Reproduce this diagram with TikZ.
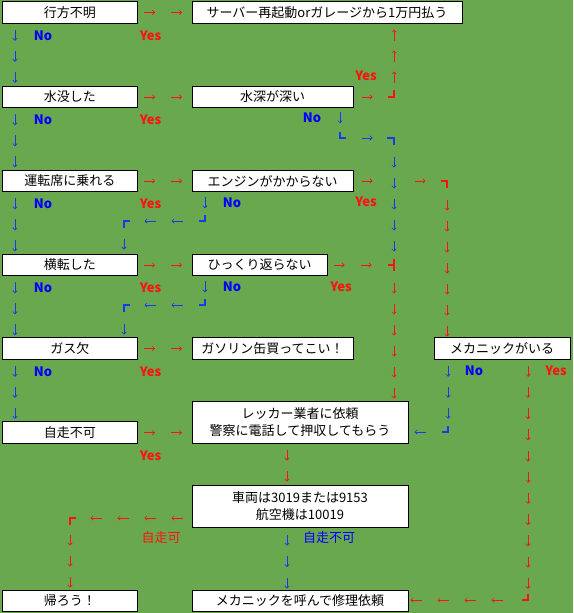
\documentclass[tikz,border=0pt]{standalone}
\usepackage{fontspec}
\newfontfamily\jpfont{Noto Sans CJK JP}
\usetikzlibrary{arrows.meta, decorations.markings}

\definecolor{field}{RGB}{106,168,79}
\definecolor{yescol}{RGB}{250,20,15}
\definecolor{nocol}{RGB}{20,60,235}
\definecolor{nolbl}{RGB}{0,0,255}

\begin{document}
\begin{tikzpicture}[
    x=1pt, y=-1pt,
    every node/.style={font=\jpfont\fontsize{13}{17}\selectfont},
    box/.style={draw, fill=white, line width=1pt, outer sep=0pt, inner sep=0pt, minimum height=21.5pt, align=center},
    chain/.style 2 args={decoration={markings, mark=between positions #1 and -4pt step #2 with {
        \draw[line width=0.65pt, -{Straight Barb[length=2.2pt,width=4.4pt]}] (-5.5pt,0) -- (5.5pt,0);}},
        postaction={decorate}},
    ych/.style 2 args={yescol, chain={#1}{#2}},
    nch/.style 2 args={nocol, chain={#1}{#2}},
    ycorner/.style={yescol, line width=1.4pt},
    ncorner/.style={nocol, line width=1.4pt},
    yeslbl/.style={text=yescol, font=\jpfont\bfseries\fontsize{13}{15}\selectfont},
    nolbl/.style={text=nolbl, font=\jpfont\bfseries\fontsize{13}{15}\selectfont},
]

\fill[field] (0,0) rectangle (573,613);
\useasboundingbox (0,0) rectangle (573,613);

% Question column
\node[box, minimum width=135.5pt] (lost)  at (69.75,12.5) {行方不明};
\node[box, minimum width=135.5pt] (flood) at (69.75,97)   {水没した};
\node[box, minimum width=135.5pt] (seat)  at (69.75,181)  {運転席に乗れる};
\node[box, minimum width=135.5pt] (roll)  at (69.75,265)  {横転した};
\node[box, minimum width=135.5pt] (gas)   at (69.75,348.5) {ガス欠};
\node[box, minimum width=135.5pt] (stuck) at (69.75,432.5) {自走不可};
\node[box, minimum width=135.5pt] (home)  at (69.75,601)  {帰ろう！};

% Answer column
\node[box, minimum width=270pt] (reboot) at (327,12.5)  {サーバー再起動orガレージから1万円払う};
\node[box, minimum width=161pt] (deep)   at (272.5,97)  {水深が深い};
\node[box, minimum width=161pt] (engine) at (272.5,181) {エンジンがかからない};
\node[box, minimum width=135pt] (flip)   at (259.5,265) {ひっくり返らない};
\node[box, minimum width=161pt] (can)    at (272.5,348.5) {ガソリン缶買ってこい！};
\node[box, minimum width=216pt, minimum height=42pt] (tow)   at (300,422) {レッカー業者に依頼\\警察に電話して押収してもらう};
\node[box, minimum width=216pt, minimum height=42pt] (plate) at (300,506) {車両は3019または9153\\航空機は10019};
\node[box, minimum width=216pt] (mech)    at (300,601)   {メカニックを呼んで修理依頼};
\node[box, minimum width=136pt] (hasmech) at (502,348.5) {メカニックがいる};

% Turning points
\coordinate (cdeep)    at (394,97);
\coordinate (noturn)   at (340,138);
\coordinate (nobend)   at (394,138);
\coordinate (cjoin)    at (394,265);
\coordinate (ceng)     at (447,181);
\coordinate (engturn)  at (205,221);
\coordinate (engdrop)  at (124,221);
\coordinate (flipturn) at (205,305);
\coordinate (flipdrop) at (124,305);
\coordinate (mechturn) at (448,432);
\coordinate (callturn) at (528,600);
\coordinate (walkturn) at (70,518);

% No: down the left column
\foreach \a/\b in {lost/flood, flood/seat, seat/roll, roll/gas, gas/stuck} {
    \path[nch={12pt}{21pt}] ([xshift=13pt]\a.south west) -- ([xshift=13pt]\b.north west);
    \node[nolbl] (no-\a) at ([xshift=41pt, yshift=-12pt]\a.south west) {No};
}

% Yes: across to the answers
\foreach \a/\b in {lost/reboot, flood/deep, seat/engine, roll/flip, gas/can, stuck/tow} {
    \path[ych={12pt}{27pt}] (\a.east) -- (\a.east -| \b.west);
    \node[yeslbl] (yes-\a) at ([xshift=13pt, yshift=-12pt]\a.south east) {Yes};
}

% Deep water
\path[ych={14pt}{27pt}] (deep.east) -- (cdeep);
\path[ych={20pt}{21pt}] (cdeep) -- (cdeep |- reboot.south);
\draw[ycorner] ([xshift=-6pt]cdeep) -- (cdeep) -- ([yshift=7pt]cdeep);
\node[yeslbl] (yes-deep) at (366,76) {Yes};

\path[nch={10pt}{21pt}] (deep.south -| noturn) -- (noturn);
\draw[ncorner] ([yshift=6pt]noturn) -- (noturn) -- ([xshift=6pt]noturn);
\path[nch={27pt}{27pt}] (noturn) -- (nobend);
\draw[ncorner] ([xshift=-7pt]nobend) -- (nobend) -- ([yshift=-7pt]nobend);
\path[nch={24pt}{21pt}] (nobend) -- (cjoin);
\node[nolbl] (no-deep) at (312,118) {No};

% Join down to the tow truck
\draw[ycorner] ([yshift=6pt]cjoin) -- ([yshift=-6pt]cjoin);
\draw[ycorner] ([xshift=-6pt]cjoin) -- (cjoin);
\path[ych={23pt}{21pt}] (cjoin) -- (cjoin |- tow.north);

% Engine
\path[ych={14pt}{53pt}] (engine.east) -- (ceng);
\draw[ycorner] ([xshift=-6pt]ceng) -- (ceng) -- ([yshift=-7pt]ceng);
\path[ych={24pt}{21pt}] (ceng) -- (ceng |- hasmech.north);
\node[yeslbl] (yes-engine) at (366,202) {Yes};

\path[nch={11pt}{21pt}] (engine.south -| engturn) -- (engturn);
\draw[ncorner] ([xshift=-6pt]engturn) -- (engturn) -- ([yshift=6pt]engturn);
\path[nch={28pt}{27pt}] (engturn) -- (engdrop);
\draw[ncorner] ([yshift=-7pt]engdrop) -- (engdrop) -- ([xshift=6pt]engdrop);
\path[nch={23pt}{21pt}] (engdrop) -- (engdrop |- roll.north);
\node[nolbl] (no-engine) at (232,203) {No};

% Flip
\path[ych={12pt}{27pt}] (flip.east) -- (cjoin);
\node[yeslbl] (yes-flip) at (341,287) {Yes};

\path[nch={11pt}{21pt}] (flip.south -| flipturn) -- (flipturn);
\draw[ncorner] ([xshift=-6pt]flipturn) -- (flipturn) -- ([yshift=6pt]flipturn);
\path[nch={28pt}{27pt}] (flipturn) -- (flipdrop);
\draw[ncorner] ([yshift=-7pt]flipdrop) -- (flipdrop) -- ([xshift=6pt]flipdrop);
\path[nch={24pt}{21pt}] (flipdrop) -- (flipdrop |- gas.north);
\node[nolbl] (no-flip) at (232,287) {No};

% Mechanic
\path[nch={12pt}{21pt}] (hasmech.south -| mechturn) -- (mechturn);
\draw[ncorner] ([xshift=-6pt]mechturn) -- (mechturn) -- ([yshift=6pt]mechturn);
\path[nch={28pt}{27pt}] (mechturn) -- (tow.east |- mechturn);
\node[nolbl] (no-mech) at (474,371) {No};

\path[ych={12pt}{21.2pt}] (hasmech.south -| callturn) -- (callturn);
\draw[ycorner] ([xshift=-6pt]callturn) -- (callturn) -- ([yshift=6pt]callturn);
\path[ych={31pt}{27pt}] (callturn) -- (mech.east |- callturn);
\node[yeslbl] (yes-mech) at (556,371) {Yes};

% Tow truck and plates
\path[ych={12pt}{21pt}] ([xshift=-13pt]tow.south) -- ([xshift=-13pt]plate.north);

\path[ych={15pt}{27pt}] (plate.west |- walkturn) -- (walkturn);
\draw[ycorner] ([yshift=-7pt]walkturn) -- (walkturn) -- ([xshift=6pt]walkturn);
\path[ych={22pt}{21pt}] (walkturn) -- (walkturn |- home.north);
\node[text=yescol] (walk) at (161,538) {自走可};

\path[nch={13pt}{21.5pt}] ([xshift=-13pt]plate.south) -- ([xshift=-13pt]mech.north);
\node[text=nolbl] (nowalk) at (329,538) {自走不可};

\end{tikzpicture}
\end{document}
